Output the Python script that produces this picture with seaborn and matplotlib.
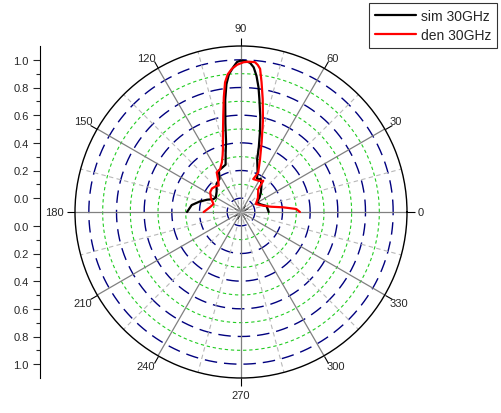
import numpy as np
import pandas as pd
import matplotlib
matplotlib.use("Agg")
import matplotlib.pyplot as plt
import seaborn as sns
from matplotlib.lines import Line2D

sns.set_style("ticks")
plt.rcParams['font.family'] = ['Liberation Sans', 'DejaVu Sans']

# ---- data (angle in degrees, normalized amplitude) ----
sim_angle = [180, 172, 166, 160, 155, 150, 140, 131, 123, 118, 112, 108, 105, 102, 100,
             98, 96.5, 95, 93, 91.5, 90, 88, 86.5, 85, 83.5, 82, 80.8, 78.5, 76.6, 74.5,
             73, 68, 64, 59, 52, 45, 38, 32, 22, 13, 0]
sim_value = [0.29, 0.26, 0.21, 0.16, 0.12, 0.11, 0.13, 0.17, 0.185, 0.24, 0.25, 0.26, 0.33, 0.42, 0.55,
             0.72, 0.83, 0.90, 0.95, 0.985, 0.995, 0.99, 0.98, 0.95, 0.89, 0.81, 0.73, 0.60, 0.49, 0.38,
             0.30, 0.22, 0.165, 0.178, 0.14, 0.104, 0.07, 0.035, 0.05, 0.09, 0.10]

den_angle = [180, 172, 164, 155, 147, 141, 134, 130, 125, 121.5, 116, 111, 108, 106, 103,
             100.4, 98.5, 97, 95.5, 93.7, 91.5, 89, 87, 84.7, 83.5, 82.4, 81, 79.1, 76.5, 73.5,
             70, 66.4, 69.6, 60, 54.5, 53, 40, 28, 15.8, 10, 6.3, 3.1, 0]
den_value = [0.17, 0.13, 0.107, 0.14, 0.165, 0.17, 0.16, 0.15, 0.19, 0.236, 0.245, 0.285, 0.33, 0.374, 0.48,
             0.61, 0.74, 0.845, 0.90, 0.936, 0.965, 0.983, 0.988, 0.988, 0.97, 0.944, 0.85, 0.73, 0.58, 0.425,
             0.30, 0.21, 0.154, 0.16, 0.177, 0.107, 0.06, 0.022, 0.067, 0.12, 0.207, 0.30, 0.326]

series_labels = ["sim 30GHz", "den 30GHz"]
series_colors = ["black", "#ff0000"]
angle_ticks = [0, 30, 60, 90, 120, 150, 180, 210, 240, 270, 300, 330]
radial_major = [0.0, 0.2, 0.4, 0.6, 0.8, 1.0]
radial_minor = [0.1, 0.3, 0.5, 0.7, 0.9]

W, H = 502, 414
fig = plt.figure(figsize=(W / 100, H / 100), dpi=100)
fig.patch.set_facecolor("white")

cx, cy, R = 241, 213, 166
ax = fig.add_axes([(cx - R) / W, (H - cy - R) / H, 2 * R / W, 2 * R / H], projection="polar")
ax.set_ylim(-0.1, 1.1)
ax.grid(False)
ax.set_xticks(np.deg2rad(angle_ticks))
ax.set_xticklabels([])
ax.set_yticks([])
ax.tick_params(axis="x", which="major", direction="out", length=6, width=0.8, color="black",
               bottom=True, top=True)
ax.spines["polar"].set_color("black")
ax.spines["polar"].set_linewidth(1.0)

th = np.linspace(0, 2 * np.pi, 721)
# radial grid circles
for v in radial_major:
    ax.plot(th, np.full_like(th, v), color="#00007f", lw=1.0, ls=(0, (9, 5)), zorder=1)
for v in radial_minor:
    ax.plot(th, np.full_like(th, v), color="#22cc22", lw=0.8, ls=(0, (3, 2.5)), zorder=1)
# angular spokes
for a in range(0, 360, 15):
    t = np.deg2rad(a)
    if a % 30 == 0:
        ax.plot([t, t], [-0.1, 1.1], color="#808080", lw=0.9, zorder=1.5)
    else:
        ax.plot([t, t], [-0.1, 1.1], color="#b8b8b8", lw=0.8, ls=(0, (4, 3)), zorder=1.5)

# angle labels
for a in angle_ticks:
    t = np.deg2rad(a)
    c, s = np.cos(t), np.sin(t)
    ha = "left" if c > 0.01 else ("right" if c < -0.01 else "center")
    va = "bottom" if s > 0.01 else ("top" if s < -0.01 else "center")
    if a in (0, 180):
        d = 8
    elif a in (90, 270):
        d = 9
    else:
        d = 4
    ax.annotate(str(a), xy=(t, 1.1), xytext=(d * c, d * s), textcoords="offset points",
                ha=ha, va=va, fontsize=8, annotation_clip=False)

# data curves
sim_df = pd.DataFrame({"theta": np.deg2rad(sim_angle), "r": sim_value})
den_df = pd.DataFrame({"theta": np.deg2rad(den_angle), "r": den_value})
sns.lineplot(data=sim_df, x="theta", y="r", sort=False, estimator=None, ax=ax,
             color=series_colors[0], lw=1.6, zorder=3)
sns.lineplot(data=den_df, x="theta", y="r", sort=False, estimator=None, ax=ax,
             color=series_colors[1], lw=1.6, zorder=4)
ax.set_xlabel("")
ax.set_ylabel("")

# left radial scale
ax2 = fig.add_axes([40 / W, (H - cy - R) / H, 0.0001, 2 * R / H])
ax2.set_ylim(-1.2, 1.2)
ax2.set_xlim(0, 1)
for sp in ["top", "right", "bottom"]:
    ax2.spines[sp].set_visible(False)
ax2.spines["left"].set_color("black")
ax2.spines["left"].set_linewidth(0.8)
ax2.set_xticks([])
major_pos = [v + 0.1 for v in radial_major[::-1]] + [-(v + 0.1) for v in radial_major]
major_lab = [f"{v:.1f}" for v in radial_major[::-1]] + [f"{v:.1f}" for v in radial_major]
ax2.set_yticks(major_pos)
ax2.set_yticklabels(major_lab, fontsize=8)
ax2.set_yticks([v + 0.1 for v in radial_minor] + [-(v + 0.1) for v in radial_minor], minor=True)
ax2.tick_params(axis="y", which="major", direction="out", length=5, width=0.8, pad=3,
                left=True, right=False)
ax2.tick_params(axis="y", which="minor", direction="out", length=3, width=0.8,
                left=True, right=False)
ax2.patch.set_visible(False)

# legend
handles = [Line2D([], [], color=series_colors[0], lw=1.6),
           Line2D([], [], color=series_colors[1], lw=1.6)]
leg = fig.legend(handles, series_labels, loc="upper right",
                 bbox_to_anchor=(497 / W, 1 - 4 / H), frameon=True, fancybox=False,
                 edgecolor="black", fontsize=10, handlelength=3.0, handletextpad=0.35,
                 labelspacing=0.4, borderpad=0.4, borderaxespad=0)
leg.get_frame().set_linewidth(0.8)

fig.savefig("out.png", dpi=100, facecolor="white")
